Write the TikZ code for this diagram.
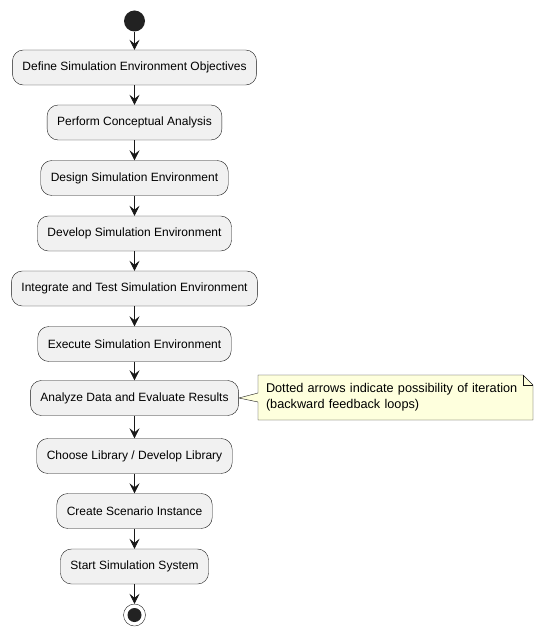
\documentclass[tikz,border=0pt]{standalone}
\usepackage{fontspec}
\setmainfont{Liberation Sans}
\usetikzlibrary{arrows.meta,backgrounds}
\definecolor{umlline}{HTML}{181818}
\definecolor{umlfill}{HTML}{F1F1F1}
\definecolor{umldot}{HTML}{222222}
\definecolor{umlnote}{HTML}{FEFFDD}

\begin{document}
\begin{tikzpicture}[x=1pt,y=-1pt]

%
% Styles
%
\tikzstyle{activity} = [draw=umlline,fill=umlfill,rounded corners=11pt,minimum height=35pt,inner xsep=10pt,font=\fontsize{12}{14}\selectfont]
\tikzstyle{startdot} = [circle,fill=umldot,minimum size=21pt,inner sep=0pt]
\tikzstyle{stopdot}  = [circle,draw=umldot,fill=white,minimum size=22pt,inner sep=0pt]
\tikzstyle{flow}     = [-{Stealth[length=10pt,width=10pt,inset=4pt]},draw=umlline,semithick]
\tikzstyle{notetext} = [text width=259pt,align=left,inner xsep=8pt,font=\fontsize{12.7}{16}\selectfont]

\useasboundingbox (0,0) rectangle (544,636);

\node[startdot] (start) at (134.5, 21) {};
\node[activity] (define)    at (134.5, 67.5)  {Define Simulation Environment Objectives};
\node[activity] (analysis)  at (134.5, 122.5) {Perform Conceptual Analysis};
\node[activity] (design)    at (134.5, 178)   {Design Simulation Environment};
\node[activity] (develop)   at (134.5, 233.5) {Develop Simulation Environment};
\node[activity] (integrate) at (134.5, 288.5) {Integrate and Test Simulation Environment};
\node[activity] (execute)   at (134.5, 344)   {Execute Simulation Environment};
\node[activity] (analyze)   at (134.5, 398)   {Analyze Data and Evaluate Results};
\node[activity] (library)   at (134.5, 456)   {Choose Library / Develop Library};
\node[activity] (scenario)  at (134.5, 511)   {Create Scenario Instance};
\node[activity] (system)    at (134.5, 566.5) {Start Simulation System};
\node[stopdot] (stop) at (134.5, 615) {};
\fill[umldot] (stop.center) circle (7pt);

\draw[flow] (start)     -- (define);
\draw[flow] (define)    -- (analysis);
\draw[flow] (analysis)  -- (design);
\draw[flow] (design)    -- (develop);
\draw[flow] (develop)   -- (integrate);
\draw[flow] (integrate) -- (execute);
\draw[flow] (execute)   -- (analyze);
\draw[flow] (analyze)   -- (library);
\draw[flow] (library)   -- (scenario);
\draw[flow] (scenario)  -- (system);
\draw[flow] (system)    -- (stop);

% note with folded corner
\node[notetext] (note) at (395.5, 397.5) {Dotted arrows indicate possibility of iteration\\(backward feedback loops)};
\begin{scope}[on background layer]
\draw[draw=umlline,fill=umlnote,thin]
  (258,375) -- (523,375) -- (533,385) -- (533,420) -- (258,420)
  -- (258,402) -- (analyze.east) -- (258,393) -- cycle;
\draw[draw=umlline,thin] (523,375) -- (523,385) -- (533,385);
\end{scope}

\end{tikzpicture}
\end{document}
